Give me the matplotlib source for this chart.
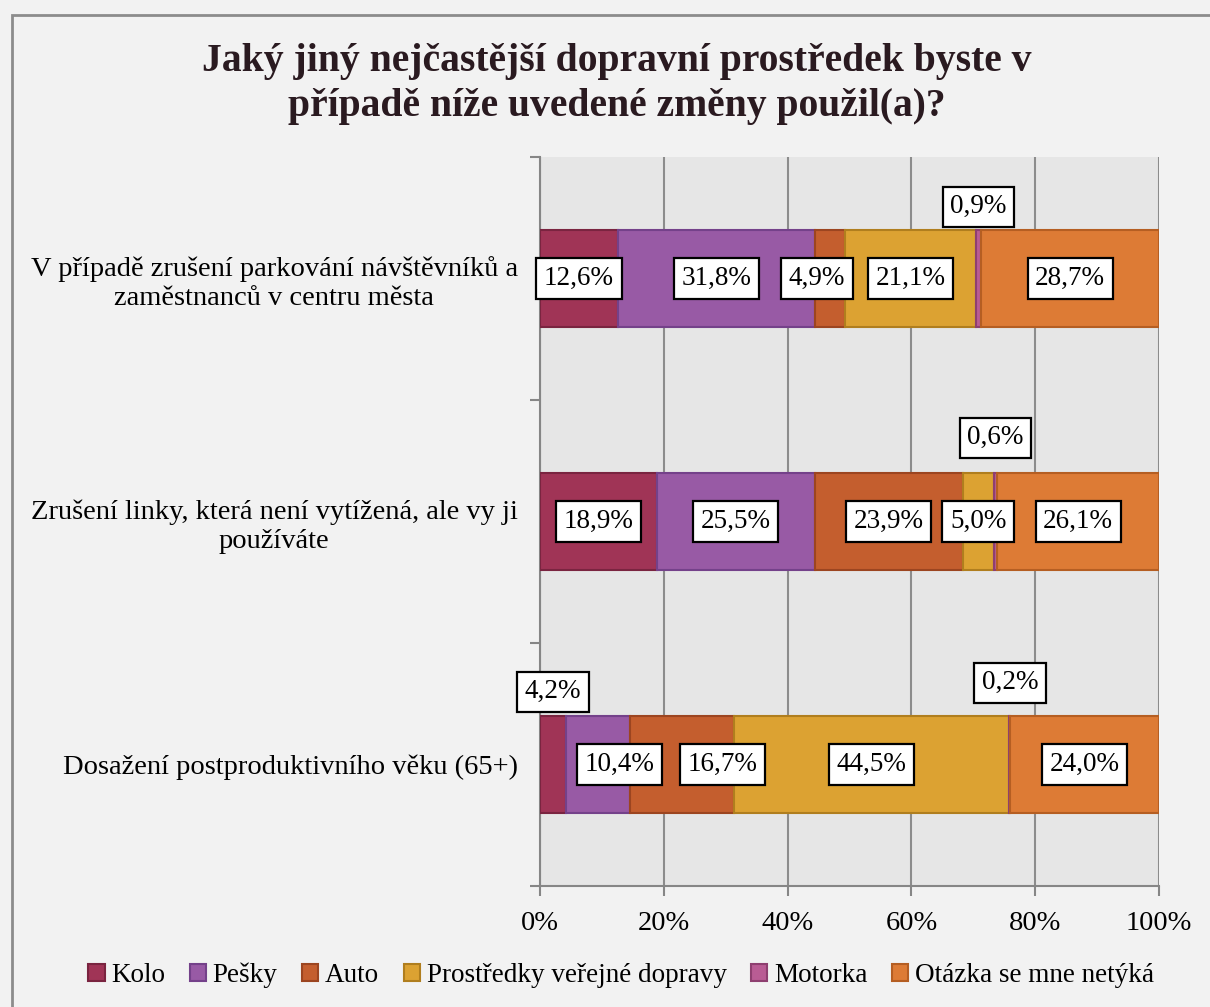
import matplotlib
matplotlib.use("Agg")
import matplotlib.pyplot as plt
from matplotlib.patches import Rectangle, Patch
import numpy as np

plt.rcParams['font.family'] = ['Liberation Serif', 'DejaVu Serif']

categories = [
    "V případě zrušení parkování návštěvníků a\nzaměstnanců v centru města",
    "Zrušení linky, která není vytížená, ale vy ji\npoužíváte",
    "Dosažení postproduktivního věku (65+)",
]
series = ["Kolo", "Pešky", "Auto", "Prostředky veřejné dopravy", "Motorka", "Otázka se mne netýká"]
values = np.array([
    [12.6, 31.8, 4.9, 21.1, 0.9, 28.7],
    [18.9, 25.5, 23.9, 5.0, 0.6, 26.1],
    [4.2, 10.4, 16.7, 44.5, 0.2, 24.0],
])
colors = ["#A03456", "#985AA5", "#C45E2E", "#DCA232", "#B95C94", "#DD7B35"]
edges = ["#7A2440", "#74418A", "#9C4520", "#B07E1E", "#8E3F70", "#B55E22"]

# label nudges (x in %, y in points) where the original labels were moved
x_shift = {(0, 2): -2.1, (2, 1): 3.5, (2, 2): 6.5}
above = {(0, 4): 23, (1, 4): 35, (2, 4): 33, (2, 0): 24}

fig = plt.figure(figsize=(12.1, 10.07), dpi=100)
fig.patch.set_facecolor("#F2F2F2")
fig.patches.append(Rectangle((12 / 1210, -0.1), 1.2, 1 - 15 / 1007 + 0.1, transform=fig.transFigure,
                             fill=False, edgecolor="#8C8C8C", linewidth=2))

ax = fig.add_axes([540 / 1210, 1 - 886 / 1007, 619 / 1210, 729 / 1007])
ax.set_facecolor("#E6E6E6")

y = np.arange(len(categories))
left = np.zeros(len(categories))
bar_h = 0.40
for j, name in enumerate(series):
    ax.barh(y, values[:, j], left=left, height=bar_h, color=colors[j],
            edgecolor=edges[j], linewidth=1.5, label=name, zorder=3)
    for i in range(len(categories)):
        v = values[i, j]
        cx = left[i] + v / 2 + x_shift.get((i, j), 0)
        dy = 0
        if (i, j) in above:
            dy = bar_h / 2 * 243 * 0.72 + above[(i, j)] * 0.72
        ax.annotate(f"{v:.1f}%".replace(".", ","), (cx, y[i]), xytext=(0, dy),
                    textcoords="offset points", ha="center", va="center",
                    fontsize=19.5, zorder=5,
                    bbox=dict(boxstyle="square,pad=0.28", facecolor="white",
                              edgecolor="black", linewidth=1.6))
    left += values[:, j]

ax.set_xlim(0, 100)
ax.set_ylim(len(categories) - 0.5, -0.5)
ax.set_xticks(np.arange(0, 101, 20))
ax.set_xticklabels([f"{t}%" for t in range(0, 101, 20)])
ax.set_yticks(y)
ax.set_yticklabels(categories, multialignment="center", linespacing=1.2)
ax.set_yticks(np.arange(-0.5, len(categories)), minor=True)
ax.tick_params(axis="y", which="major", length=0, pad=16, labelsize=20.5)
ax.tick_params(axis="y", which="minor", length=7, color="#868686", width=1.5)
ax.tick_params(axis="x", length=7, color="#868686", width=1.5, pad=11, labelsize=20.5)
ax.grid(axis="x", color="#8C8C8C", linewidth=1.5, zorder=0)
ax.set_axisbelow(True)
for s in ["top", "right"]:
    ax.spines[s].set_visible(False)
for s in ["left", "bottom"]:
    ax.spines[s].set_color("#868686")
    ax.spines[s].set_linewidth(1.5)

fig.text(617 / 1210, 1 - 84 / 1007,
         "Jaký jiný nejčastější dopravní prostředek byste v\npřípadě níže uvedené změny použil(a)?",
         ha="center", va="center", fontsize=28.5, fontweight="bold", color="#2A1A20",
         linespacing=1.3)

handles = [Patch(facecolor=c, edgecolor=e, linewidth=1.5) for c, e in zip(colors, edges)]
fig.legend(handles, series, loc="center", bbox_to_anchor=(621 / 1210, 1 - 975 / 1007),
           ncol=6, frameon=False, fontsize=19.5, handlelength=0.6, handleheight=0.6,
           handletextpad=0.25, columnspacing=0.9)

fig.savefig("out.png", dpi=100, facecolor=fig.get_facecolor())
